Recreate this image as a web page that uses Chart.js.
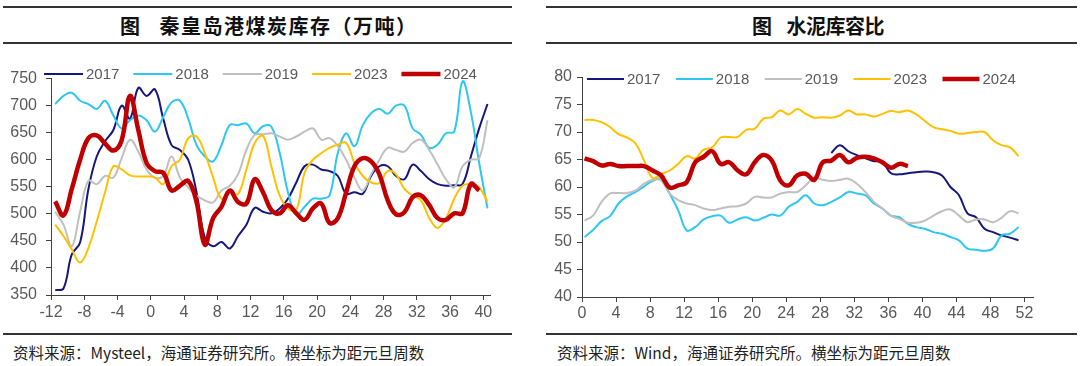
<!DOCTYPE html>
<html>
<head>
<meta charset="utf-8">
<script src="https://cdn.jsdelivr.net/npm/chart.js@4.4.1/dist/chart.umd.min.js"></script>
<style>
  body { margin: 0; background: #fff; width: 1080px; height: 366px; position: relative; overflow: hidden;
         font-family: "Noto Sans CJK SC", sans-serif; }
  .rule { position: absolute; height: 2px; background: #333; }
  .title { position: absolute; top: 11px; font-size: 20px; font-weight: 700; color: #111; white-space: nowrap; }
  .src { position: absolute; top: 341px; font-size: 15.5px; color: #222; white-space: nowrap; }
  canvas { position: absolute; }
</style>
</head>
<body>
  <!-- left panel -->
  <div class="rule" style="left:3px;width:509px;top:6px"></div>
  <div class="title" style="left:120px;letter-spacing:1.5px">图<span style="margin-left:18px">秦皇岛港煤炭库存（万吨）</span></div>
  <div class="rule" style="left:3px;width:509px;top:42px"></div>
  <canvas id="coalChart" width="510" height="270" style="left:0;top:60px"></canvas>
  <div class="rule" style="left:3px;width:509px;top:333px"></div>
  <div class="src" style="left:13px">资料来源：Mysteel，海通证券研究所。横坐标为距元旦周数</div>

  <!-- right panel -->
  <div class="rule" style="left:546px;width:531px;top:6px"></div>
  <div class="title" style="left:752px;letter-spacing:-0.5px">图<span style="margin-left:15px">水泥库容比</span></div>
  <div class="rule" style="left:546px;width:531px;top:42px"></div>
  <canvas id="cementChart" width="520" height="270" style="left:540px;top:60px"></canvas>
  <div class="rule" style="left:546px;width:531px;top:333px"></div>
  <div class="src" style="left:557px">资料来源：Wind，海通证券研究所。横坐标为距元旦周数</div>

<script>
/* ---- data: coal stock at Qinhuangdao (10k t), weeks from New Year ---- */
const COAL_WEEKS = Array.from({ length: 53 }, (_, i) => i - 11.5);   // -11.5 .. 40.5
const COAL_X_TICKS = [-12, -8, -4, 0, 4, 8, 12, 16, 20, 24, 28, 32, 36, 40];
const COAL_Y_TICKS = [350, 400, 450, 500, 550, 600, 650, 700, 750];

const coal2017 = [359, 362, 425, 447, 546, 606, 634, 655, 700, 676, 733, 718, 730, 676, 627, 618, 600, 540, 456, 440,
  448, 436, 459, 480, 511, 504, 501, 510, 528, 558, 588, 591, 582, 579, 570, 537, 540, 537, 570, 588,
  588, 570, 564, 591, 579, 564, 555, 552, 553, 555, 606, 658, 703];
const coal2018 = [703, 718, 724, 709, 703, 694, 709, 682, 658, 673, 682, 673, 652, 679, 706, 709, 676, 627, 606, 597,
  627, 664, 664, 667, 649, 662, 661, 613, 540, 498, 513, 528, 528, 534, 613, 649, 625, 664, 686, 694,
  685, 700, 700, 658, 646, 622, 628, 649, 652, 745, 688, 594, 510];
const coal2019 = [504, 480, 440, 504, 561, 555, 570, 567, 603, 637, 615, 582, 567, 570, 606, 567, 549, 534, 525, 521,
  543, 552, 573, 618, 646, 647, 649, 643, 637, 643, 652, 658, 637, 640, 625, 600, 567, 543, 573, 600,
  622, 618, 615, 631, 637, 618, 591, 564, 549, 588, 600, 603, 673];
const coal2023 = [480, 459, 434, 410, 437, 486, 540, 588, 582, 571, 569, 569, 567, 555, 588, 600, 640, 643, 612, 567,
  528, 540, 537, 582, 631, 644, 588, 534, 510, 507, 576, 600, 612, 622, 628, 631, 594, 570, 558, 557,
  579, 573, 546, 534, 525, 492, 474, 492, 528, 552, 555, 549, 523];
const coal2024 = [523, 497, 546, 600, 640, 645, 630, 617, 636, 718, 655, 594, 579, 576, 543, 552, 561, 522, 443, 492,
  513, 543, 522, 519, 564, 540, 507, 501, 516, 501, 489, 510, 519, 483, 492, 540, 588, 603, 597, 573,
  525, 499, 503, 531, 534, 516, 492, 489, 501, 501, 555, 543];

/* ---- data: cement storage ratio (%) ---- */
const CEM_WEEKS = Array.from({ length: 52 }, (_, i) => i + 0.3);     // 0.3 .. 51.3
const CEM_X_TICKS = [0, 4, 8, 12, 16, 20, 24, 28, 32, 36, 40, 44, 48, 52];
const CEM_Y_TICKS = [40, 45, 50, 55, 60, 65, 70, 75, 80];

const CEM_2017_FROM = 29;   // 2017 series starts at week index 29
const cem2017 = [66.2, 67.6, 66.5, 65.8, 65.2, 64.7, 64.5, 62.5, 62.3, 62.5, 62.7, 62.8, 62.7, 62.1, 60.0, 58.5,
  55.2, 54.5, 52.4, 51.8, 51.2, 50.8, 50.3];
const cem2018 = [50.9, 52.2, 53.8, 54.7, 57.0, 58.3, 59.1, 60.1, 61.1, 61.5, 58.8, 55.8, 52.1, 52.7, 54.1, 54.7,
  54.8, 53.5, 54.1, 54.5, 53.9, 54.4, 55.0, 54.8, 56.4, 57.3, 58.5, 57.0, 56.7, 57.3, 58.1, 59.1,
  58.8, 58.5, 57.0, 56.1, 54.8, 54.5, 53.3, 52.7, 52.4, 51.8, 51.5, 50.9, 50.3, 48.8, 48.6, 48.4,
  48.8, 51.2, 51.5, 52.7];
const cem2019 = [53.9, 54.8, 57.3, 58.8, 58.9, 58.9, 59.4, 60.6, 61.3, 61.2, 58.8, 57.6, 57.0, 56.7, 56.1, 55.8,
  56.1, 56.4, 56.5, 57.0, 58.2, 58.1, 58.1, 58.8, 59.1, 59.1, 60.3, 61.7, 61.3, 61.1, 61.3, 61.5,
  60.6, 59.1, 57.3, 56.1, 54.8, 54.2, 53.5, 53.5, 53.9, 54.8, 55.6, 55.9, 54.8, 53.6, 54.1, 54.1,
  53.6, 54.4, 55.6, 55.2];
const cem2023 = [72.2, 72.2, 71.8, 70.9, 69.6, 69.0, 67.9, 64.8, 61.6, 62.4, 63.0, 64.2, 65.6, 65.2, 66.8, 67.2,
  69.0, 69.1, 69.1, 70.4, 70.6, 72.4, 72.7, 73.9, 73.2, 74.2, 73.3, 72.6, 72.7, 72.6, 73.0, 73.9,
  73.2, 73.2, 72.8, 73.3, 73.8, 73.6, 73.9, 73.2, 72.0, 70.9, 70.5, 70.2, 69.7, 69.8, 70.0, 70.0,
  68.5, 67.6, 67.2, 65.6];
const cem2024 = [65.2, 64.7, 63.9, 64.2, 63.8, 63.8, 63.8, 63.8, 63.0, 62.1, 59.9, 60.3, 60.9, 64.5, 65.5, 66.5,
  64.2, 64.5, 63.0, 62.3, 64.5, 65.8, 64.8, 61.2, 60.3, 62.1, 62.4, 61.3, 64.5, 64.8, 65.8, 64.5,
  65.3, 65.5, 65.2, 64.5, 63.5, 64.2, 63.8];

const SERIES_NAMES = ['2017', '2018', '2019', '2023', '2024'];

/* ---- styles ---- */
const COLORS = {
  y2017: '#16167d',
  y2018: '#2ec6f2',
  y2019: '#bfbfbf',
  y2023: '#ffc000',
  y2024: '#c00000',
  axis: '#404040',
  text: '#595959',
};
const TICK_FONT = { family: '"Liberation Sans", Arial, sans-serif', size: 16 };

function pts(weeks, values, from = 0) {
  return values.map((v, i) => ({ x: weeks[from + i], y: v }));
}

function makeDatasets(weeks, list) {
  const styles = [
    { c: COLORS.y2017, w: 2, o: 5 },
    { c: COLORS.y2018, w: 2, o: 4 },
    { c: COLORS.y2019, w: 2, o: 3 },
    { c: COLORS.y2023, w: 2, o: 2 },
    { c: COLORS.y2024, w: 4.5, o: 1 },
  ];
  return list.map((d, i) => ({
    label: SERIES_NAMES[i],
    data: pts(weeks, d.values, d.from || 0),
    borderColor: styles[i].c,
    borderWidth: styles[i].w,
    order: styles[i].o,
    pointRadius: 0,
    tension: 0.4,
    fill: false,
  }));
}

// legend drawn over the plot, line + label, Excel style
const lineLegend = {
  id: 'lineLegend',
  afterDatasetsDraw(chart, args, opts) {
    const ctx = chart.ctx;
    ctx.save();
    ctx.font = '15px "Liberation Sans", Arial, sans-serif';
    ctx.textBaseline = 'middle';
    let x = opts.x;
    chart.data.datasets.forEach(ds => {
      ctx.strokeStyle = ds.borderColor;
      ctx.lineWidth = ds.borderWidth;
      ctx.beginPath();
      ctx.moveTo(x, opts.y);
      ctx.lineTo(x + opts.len, opts.y);
      ctx.stroke();
      ctx.fillStyle = COLORS.text;
      ctx.fillText(ds.label, x + opts.len + 3, opts.y + 1);
      x += opts.len + 3 + ctx.measureText(ds.label).width + opts.gap;
    });
    ctx.restore();
  }
};

function axisOpts(min, max, ticks, fit, pad, isX) {
  return {
    type: 'linear',
    min, max,
    afterBuildTicks: (scale) => { scale.ticks = ticks.map(v => ({ value: v })); },
    afterFit: (scale) => { if (isX) scale.height = fit; else scale.width = fit; },
    ticks: { color: COLORS.text, font: TICK_FONT, padding: pad, autoSkip: false, maxRotation: 0 },
    grid: { drawOnChartArea: false, drawTicks: true, tickLength: 5, color: COLORS.axis },
    border: { display: true, color: COLORS.axis, width: 1 },
  };
}

function baseOptions(padding, x, y, legend) {
  return {
    responsive: false,
    animation: false,
    layout: { padding },
    plugins: { legend: { display: false }, tooltip: { enabled: false }, lineLegend: legend },
    scales: { x, y },
  };
}

/* ---- Chart 1: coal stock ---- */
new Chart(document.getElementById('coalChart'), {
  type: 'line',
  data: {
    datasets: makeDatasets(COAL_WEEKS, [
      { values: coal2017 }, { values: coal2018 }, { values: coal2019 }, { values: coal2023 }, { values: coal2024 },
    ])
  },
  options: baseOptions(
    { left: 1, right: 20, top: 14, bottom: 0 },
    axisOpts(-12, 40.8, COAL_X_TICKS, 35, 3, true),
    axisOpts(350, 750, COAL_Y_TICKS, 50, 9, false),
    { x: 44, y: 14, len: 39, gap: 14 }
  ),
  plugins: [lineLegend]
});

/* ---- Chart 2: cement storage ratio ---- */
new Chart(document.getElementById('cementChart'), {
  type: 'line',
  data: {
    datasets: makeDatasets(CEM_WEEKS, [
      { values: cem2017, from: CEM_2017_FROM }, { values: cem2018 }, { values: cem2019 },
      { values: cem2023 }, { values: cem2024 },
    ])
  },
  options: baseOptions(
    { left: 0, right: 27, top: 17, bottom: 0 },
    axisOpts(0, 53, CEM_X_TICKS, 33, 2, true),
    axisOpts(40, 80, CEM_Y_TICKS, 42, 5, false),
    { x: 47, y: 19, len: 37, gap: 15.5 }
  ),
  plugins: [lineLegend]
});
</script>
</body>
</html>
